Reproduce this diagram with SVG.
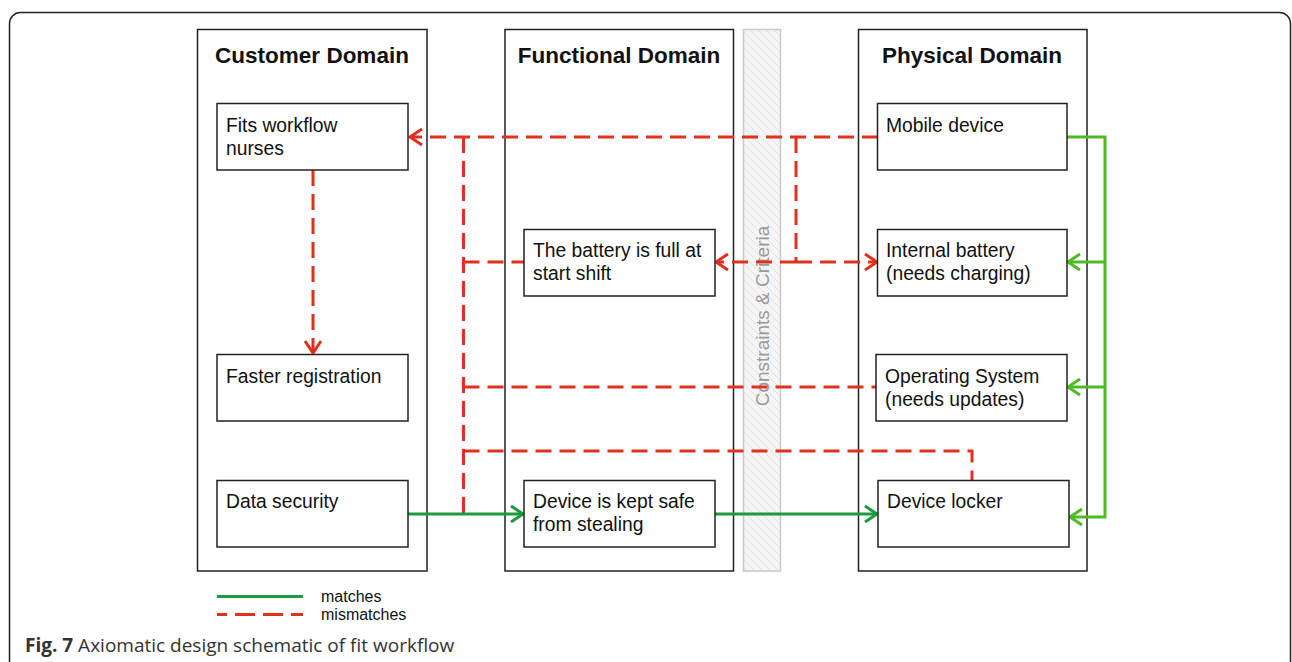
<svg xmlns="http://www.w3.org/2000/svg" width="1292" height="662" viewBox="0 0 1292 662">
  <style>
    .frame { fill: none; stroke: #222; stroke-width: 1.5; }
    .domain { fill: #fff; stroke: #222; stroke-width: 1.5; }
    .box { fill: #fff; stroke: #222; stroke-width: 1.5; }
    .head { font-family: "Liberation Sans", Arial, sans-serif; font-weight: bold; font-size: 22.5px; fill: #111; text-anchor: middle; }
    .lbl { font-family: "Liberation Sans", Arial, sans-serif; font-size: 19.3px; fill: #111; }
    .legend { font-family: "Liberation Sans", Arial, sans-serif; font-size: 16px; fill: #111; }
    .cap { font-family: "Open Sans", "Noto Sans", sans-serif; font-size: 19px; fill: #333; }
    .miss { fill: none; stroke: #e0301e; stroke-width: 3; stroke-dasharray: 16 8; }
    .match { fill: none; stroke: #1b9c3c; stroke-width: 3; }
    .match2 { fill: none; stroke: #4cbb24; stroke-width: 3; }
  </style>
  <defs>
    <pattern id="hatch" patternUnits="userSpaceOnUse" width="8" height="8">
      <rect width="8" height="8" fill="#f5f5f5"/>
      <path d="M-2,-2 L10,10 M-2,6 L2,10 M6,-2 L10,2" stroke="#b8b8b8" stroke-width="0.8" stroke-dasharray="1 1.5"/>
    </pattern>
    <marker id="arrRed" markerUnits="userSpaceOnUse" markerWidth="20" markerHeight="20" refX="0" refY="0" viewBox="-14 -10 16 20" orient="auto">
      <path d="M-12,-8 L0,0 L-12,8" fill="none" stroke="#e0301e" stroke-width="3" stroke-dasharray="none"/>
    </marker>
    <marker id="arrGreen" markerUnits="userSpaceOnUse" markerWidth="20" markerHeight="20" refX="0" refY="0" viewBox="-14 -10 16 20" orient="auto">
      <path d="M-12,-8 L0,0 L-12,8" fill="none" stroke="#1b9c3c" stroke-width="3" stroke-dasharray="none"/>
    </marker>
    <marker id="arrLight" markerUnits="userSpaceOnUse" markerWidth="20" markerHeight="20" refX="0" refY="0" viewBox="-14 -10 16 20" orient="auto">
      <path d="M-12,-8 L0,0 L-12,8" fill="none" stroke="#4cbb24" stroke-width="3" stroke-dasharray="none"/>
    </marker>
  </defs>

  <rect width="1292" height="662" fill="#fff"/>
  <!-- figure frame -->
  <rect class="frame" x="9.5" y="12.5" width="1281" height="700" rx="11"/>

  <!-- domain columns -->
  <g id="customer-domain">
    <rect class="domain" x="197.5" y="29.5" width="229.5" height="541.5"/>
    <text class="head" x="312" y="63">Customer Domain</text>
  </g>
  <g id="functional-domain">
    <rect class="domain" x="505" y="29.5" width="228.5" height="541.5"/>
    <text class="head" x="619" y="63">Functional Domain</text>
  </g>
  <g id="constraints">
    <rect x="743.5" y="29.5" width="37" height="541.5" fill="url(#hatch)" stroke="#cacaca" stroke-width="1.5"/>
    <text transform="translate(769,316) rotate(-90)" text-anchor="middle" font-family="Liberation Sans, Arial, sans-serif" font-size="19" fill="#9a9a9a">Constraints &amp; Criteria</text>
  </g>
  <g id="physical-domain">
    <rect class="domain" x="858.5" y="29.5" width="228.5" height="541.5"/>
    <text class="head" x="972" y="63">Physical Domain</text>
  </g>

  <!-- connectors -->
  <g id="connectors">
    <path class="miss" d="M878,137 H410" marker-end="url(#arrRed)"/>
    <path class="miss" d="M796,137 V262"/>
    <path class="miss" d="M796,262 H877" marker-end="url(#arrRed)"/>
    <path class="miss" d="M796,262 H716" marker-end="url(#arrRed)"/>
    <path class="miss" d="M313,170 V353" marker-end="url(#arrRed)"/>
    <path class="miss" d="M463.5,137 V514"/>
    <path class="miss" d="M463.5,262 H524"/>
    <path class="miss" d="M463.5,387 H876"/>
    <path class="miss" d="M463.5,451 H972 V481"/>

    <path class="match" d="M408,514 H523" marker-end="url(#arrGreen)"/>
    <path class="match" d="M715,514 H877" marker-end="url(#arrGreen)"/>

    <path class="match2" d="M1067,137 H1105 V517 H1070" marker-end="url(#arrLight)"/>
    <path class="match2" d="M1105,262 H1068" marker-end="url(#arrLight)"/>
    <path class="match2" d="M1105,387 H1068" marker-end="url(#arrLight)"/>
  </g>

  <!-- customer nodes -->
  <g id="fits-workflow">
    <rect class="box" x="217" y="103.5" width="191" height="66.5"/>
    <text class="lbl" x="226" y="132">Fits workflow</text>
    <text class="lbl" x="226" y="155">nurses</text>
  </g>
  <g id="faster-registration">
    <rect class="box" x="217" y="354.5" width="191" height="66.5"/>
    <text class="lbl" x="226" y="383">Faster registration</text>
  </g>
  <g id="data-security">
    <rect class="box" x="217" y="480.5" width="191" height="66.5"/>
    <text class="lbl" x="226" y="508">Data security</text>
  </g>

  <!-- functional nodes -->
  <g id="battery-full">
    <rect class="box" x="524" y="229.5" width="191" height="66.5"/>
    <text class="lbl" x="533" y="257">The battery is full at</text>
    <text class="lbl" x="533" y="280">start shift</text>
  </g>
  <g id="kept-safe">
    <rect class="box" x="524" y="480.5" width="191" height="66.5"/>
    <text class="lbl" x="533" y="508">Device is kept safe</text>
    <text class="lbl" x="533" y="531">from stealing</text>
  </g>

  <!-- physical nodes -->
  <g id="mobile-device">
    <rect class="box" x="877.5" y="103.5" width="189.5" height="66.5"/>
    <text class="lbl" x="886" y="132">Mobile device</text>
  </g>
  <g id="internal-battery">
    <rect class="box" x="877.5" y="229.5" width="189.5" height="66.5"/>
    <text class="lbl" x="886" y="257">Internal battery</text>
    <text class="lbl" x="886" y="280">(needs charging)</text>
  </g>
  <g id="operating-system">
    <rect class="box" x="876" y="354.5" width="191" height="66.5"/>
    <text class="lbl" x="885" y="383">Operating System</text>
    <text class="lbl" x="885" y="406">(needs updates)</text>
  </g>
  <g id="device-locker">
    <rect class="box" x="878" y="480.5" width="191" height="66.5"/>
    <text class="lbl" x="887" y="508">Device locker</text>
  </g>

  <!-- legend -->
  <g id="legend">
    <line x1="217" y1="596.5" x2="303" y2="596.5" stroke="#1b9c3c" stroke-width="3"/>
    <line x1="217" y1="614.5" x2="303" y2="614.5" stroke="#e0301e" stroke-width="3" stroke-dasharray="10 8 20 8 20 8 20 8"/>
    <text class="legend" x="321" y="602">matches</text>
    <text class="legend" x="321" y="620">mismatches</text>
  </g>

  <!-- caption -->
  <text class="cap" x="25" y="652"><tspan font-weight="bold">Fig. 7</tspan> Axiomatic design schematic of fit workflow</text>
</svg>
